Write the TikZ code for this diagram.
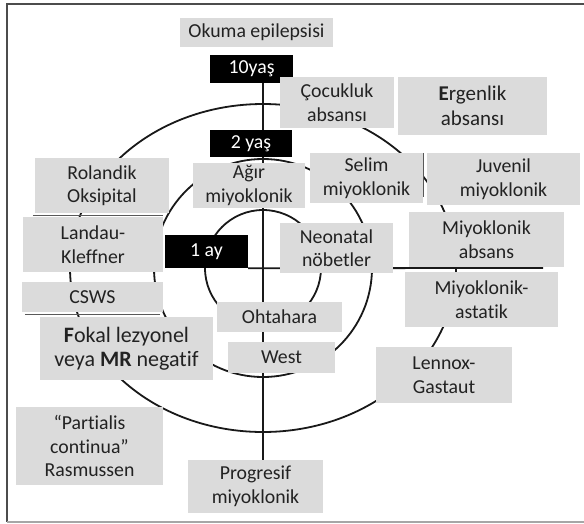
\documentclass[tikz,border=0pt]{standalone}
\usepackage{fontspec}
\setmainfont{Carlito}[Ligatures=NoCommon]
\usetikzlibrary{backgrounds}
\definecolor{boxgray}{HTML}{DBDBDB}
\definecolor{txt}{HTML}{222222}
\begin{document}
\begin{tikzpicture}[x=1pt,y=-1pt,
  box/.style={fill=boxgray, draw=none, inner sep=0pt, align=center, text=txt,
    font=\fontsize{19.8}{23.5}\selectfont},
  blk/.style={fill=black, draw=none, inner sep=0pt, text=white,
    font=\fontsize{19.8}{23.5}\selectfont},
  ring/.style={line width=1.8pt, draw=black!90},
  shade/.style={line width=1.3pt, draw=black!65},
  frame/.style={line width=1.5pt, draw=black!70}]
\useasboundingbox (0,0) rectangle (584,523);

% boxes
\node[box, minimum width=153pt, minimum height=29pt] (okuma) at (256.5,32.5) {Okuma epilepsisi};
\node[blk, minimum width=83pt, minimum height=28pt] (y10) at (251.5,69) {10yaş};
\node[box, minimum width=114pt, minimum height=51pt] (cocuk) at (337,102.5) {Çocukluk\\absansı};
\node[box, minimum width=149pt, minimum height=58pt, font=\fontsize{21}{25}\selectfont] (ergen) at (472.5,106) {\textbf{E}rgenlik\\absansı};
\node[blk, minimum width=82pt, minimum height=27pt] (y2) at (251,143.5) {2 yaş};
\node[box, minimum width=112pt, minimum height=45pt] (agir) at (249,185.5) {Ağır\\miyoklonik};
\node[box, minimum width=134pt, minimum height=55pt] (rol) at (102,185.5) {Rolandik\\Oksipital};
\node[box, minimum width=140pt, minimum height=55pt] (landau) at (93,244.5) {Landau-\\Kleffner};
\node[blk, minimum width=83pt, minimum height=33pt] (ay1) at (206.5,251.5) {1 ay};
\node[box, minimum width=113pt, minimum height=50pt] (selim) at (366.5,178) {Selim\\miyoklonik};
\node[box, minimum width=153pt, minimum height=52pt] (juv) at (503.5,179) {Juvenil\\miyoklonik};
\node[box, minimum width=155pt, minimum height=55pt] (absans) at (486.5,239.5) {Miyoklonik\\absans};
\node[box, minimum width=113pt, minimum height=50pt] (neo) at (336.5,248) {Neonatal\\nöbetler};
\node[box, minimum width=141pt, minimum height=30pt] (csws) at (92.5,297) {CSWS};
\node[box, minimum width=173pt, minimum height=63pt, font=\fontsize{22}{24}\selectfont] (fokal) at (126.5,348.5) {\textbf{F}okal lezyonel\\veya \textbf{MR} negatif};
\node[box, minimum width=125pt, minimum height=30pt] (oht) at (279.5,317) {Ohtahara};
\node[box, minimum width=107pt, minimum height=31pt] (west) at (281.5,357.5) {West};
\node[box, minimum width=153pt, minimum height=55pt] (astat) at (481.5,299.5) {Miyoklonik-\\astatik};
\node[box, minimum width=136pt, minimum height=56pt] (lennox) at (444,375) {Lennox-\\Gastaut};
\node[box, minimum width=147pt, minimum height=78pt] (part) at (89.5,446) {“Partialis\\continua”\\Rasmussen};
\node[box, minimum width=135pt, minimum height=53pt] (prog) at (255.5,486.5) {Progresif\\miyoklonik};

% box shadows / edges
\draw[shade] (selim.north east) -- ([yshift=6pt]selim.south east);
\draw[shade] ([xshift=-2pt,yshift=-2pt]rol.south west) -- ([xshift=-6pt,yshift=-2pt]rol.south east);
\draw[shade] ([xshift=3pt,yshift=-2.5pt]csws.south west) -- ([xshift=-3pt,yshift=-2.5pt]csws.south east);

\begin{pgfonlayer}{background}
  \fill[white] (0,0) rectangle (584,523);
  \coordinate (c) at (263,268);
  \coordinate (hend) at (543,268);
  \draw[ring] (c |- y10.south) -- (c |- prog.north);
  \draw[ring] (c) circle[radius=58pt];
  \draw[ring] (c) circle[radius=109pt];
  \draw[ring] (c) ellipse[x radius=193pt, y radius=164pt];
  \draw[ring] (ay1.south east) -- (hend);
  % frame
  \draw[frame] (584,4) -- (7,4) -- (7,522);
  \draw[line width=1.5pt, draw=black!35] (7,522) -- (584,522);
\end{pgfonlayer}
\end{tikzpicture}
\end{document}
